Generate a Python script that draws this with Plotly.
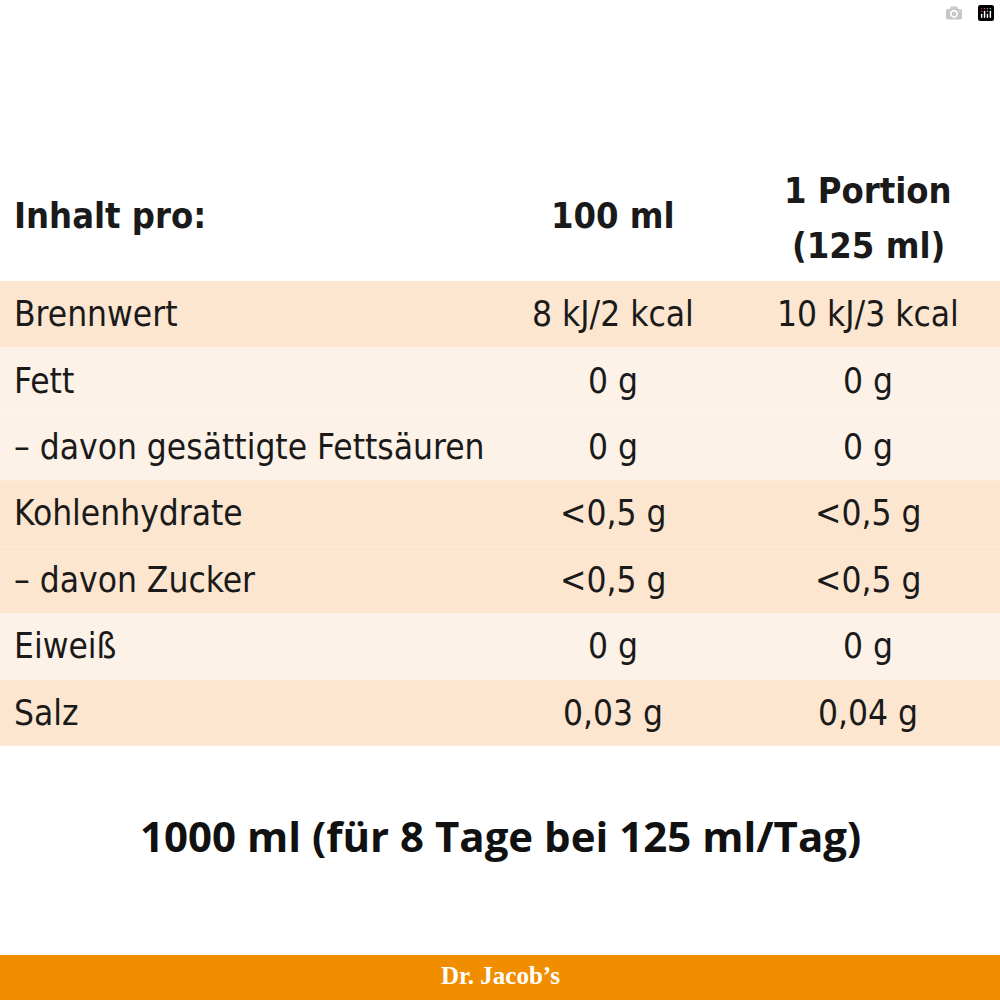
import plotly.graph_objects as go

labels = ["Brennwert", "Fett", "– davon gesättigte Fettsäuren", "Kohlenhydrate",
          "– davon Zucker", "Eiweiß", "Salz"]
per100 = ["8 kJ/2 kcal", "0 g", "0 g", "<0,5 g", "<0,5 g", "0 g", "0,03 g"]
perPortion = ["10 kJ/3 kcal", "0 g", "0 g", "<0,5 g", "<0,5 g", "0 g", "0,04 g"]
bandGroup = [0, 1, 1, 0, 0, 1, 0]  # 0 = darker peach, 1 = light
header = ["Inhalt pro:", "100 ml", "1 Portion", "(125 ml)"]
footer = "1000 ml (für 8 Tage bei 125 ml/Tag)"
brand = "Dr. Jacob’s"

FONT = "DejaVu Sans Condensed, DejaVu Sans"
dark, light = "#fde6cf", "#fdf2e8"
top, rh = 281, 66.4
x1, x2 = 613, 868

fig = go.Figure()
shapes, ann = [], []
for i, lab in enumerate(labels):
    y0 = top + i * rh
    shapes.append(dict(type="rect", x0=0, x1=1000, y0=y0, y1=y0 + rh, xref="x", yref="y",
                       fillcolor=dark if bandGroup[i] == 0 else light, line_width=0, layer="below"))
    yc = y0 + rh / 2
    f = dict(family=FONT, size=35, color="#1a1a1a")
    ann.append(dict(x=12, y=yc, text=lab, xanchor="left", font=f))
    ann.append(dict(x=x1, y=yc, text=per100[i], xanchor="center", font=f))
    ann.append(dict(x=x2, y=yc, text=perPortion[i], xanchor="center", font=f))

hf = dict(family=FONT, size=36, color="#1a1a1a")
ann.append(dict(x=12, y=215, text="<b>%s</b>" % header[0], xanchor="left", font=hf))
ann.append(dict(x=x1, y=215, text="<b>%s</b>" % header[1], xanchor="center", font=hf))
ann.append(dict(x=x2, y=190, text="<b>%s</b>" % header[2], xanchor="center", font=hf))
ann.append(dict(x=x2, y=245, text="<b>%s</b>" % header[3], xanchor="center", font=hf))
ann.append(dict(x=500, y=835, text="<b>%s</b>" % footer, xanchor="center",
                font=dict(family="Open Sans", size=42, color="#111")))
shapes.append(dict(type="rect", x0=0, x1=1000, y0=955, y1=1000, xref="x", yref="y",
                   fillcolor="#f18e00", line_width=0, layer="below"))
ann.append(dict(x=500, y=975, text="<b>%s</b>" % brand, xanchor="center",
                font=dict(family="Liberation Serif", size=25, color="white")))
for a in ann:
    a.update(xref="x", yref="y", showarrow=False, yanchor="middle")

fig.update_layout(width=1000, height=1000, margin=dict(l=0, r=0, t=0, b=0),
                  plot_bgcolor="white", paper_bgcolor="white", shapes=shapes, annotations=ann,
                  xaxis=dict(range=[0, 1000], visible=False, fixedrange=True),
                  yaxis=dict(range=[1000, 0], visible=False, fixedrange=True), showlegend=False)
fig.write_html("out.html", post_script="document.body.style.margin='0';document.body.style.overflow='hidden';")
